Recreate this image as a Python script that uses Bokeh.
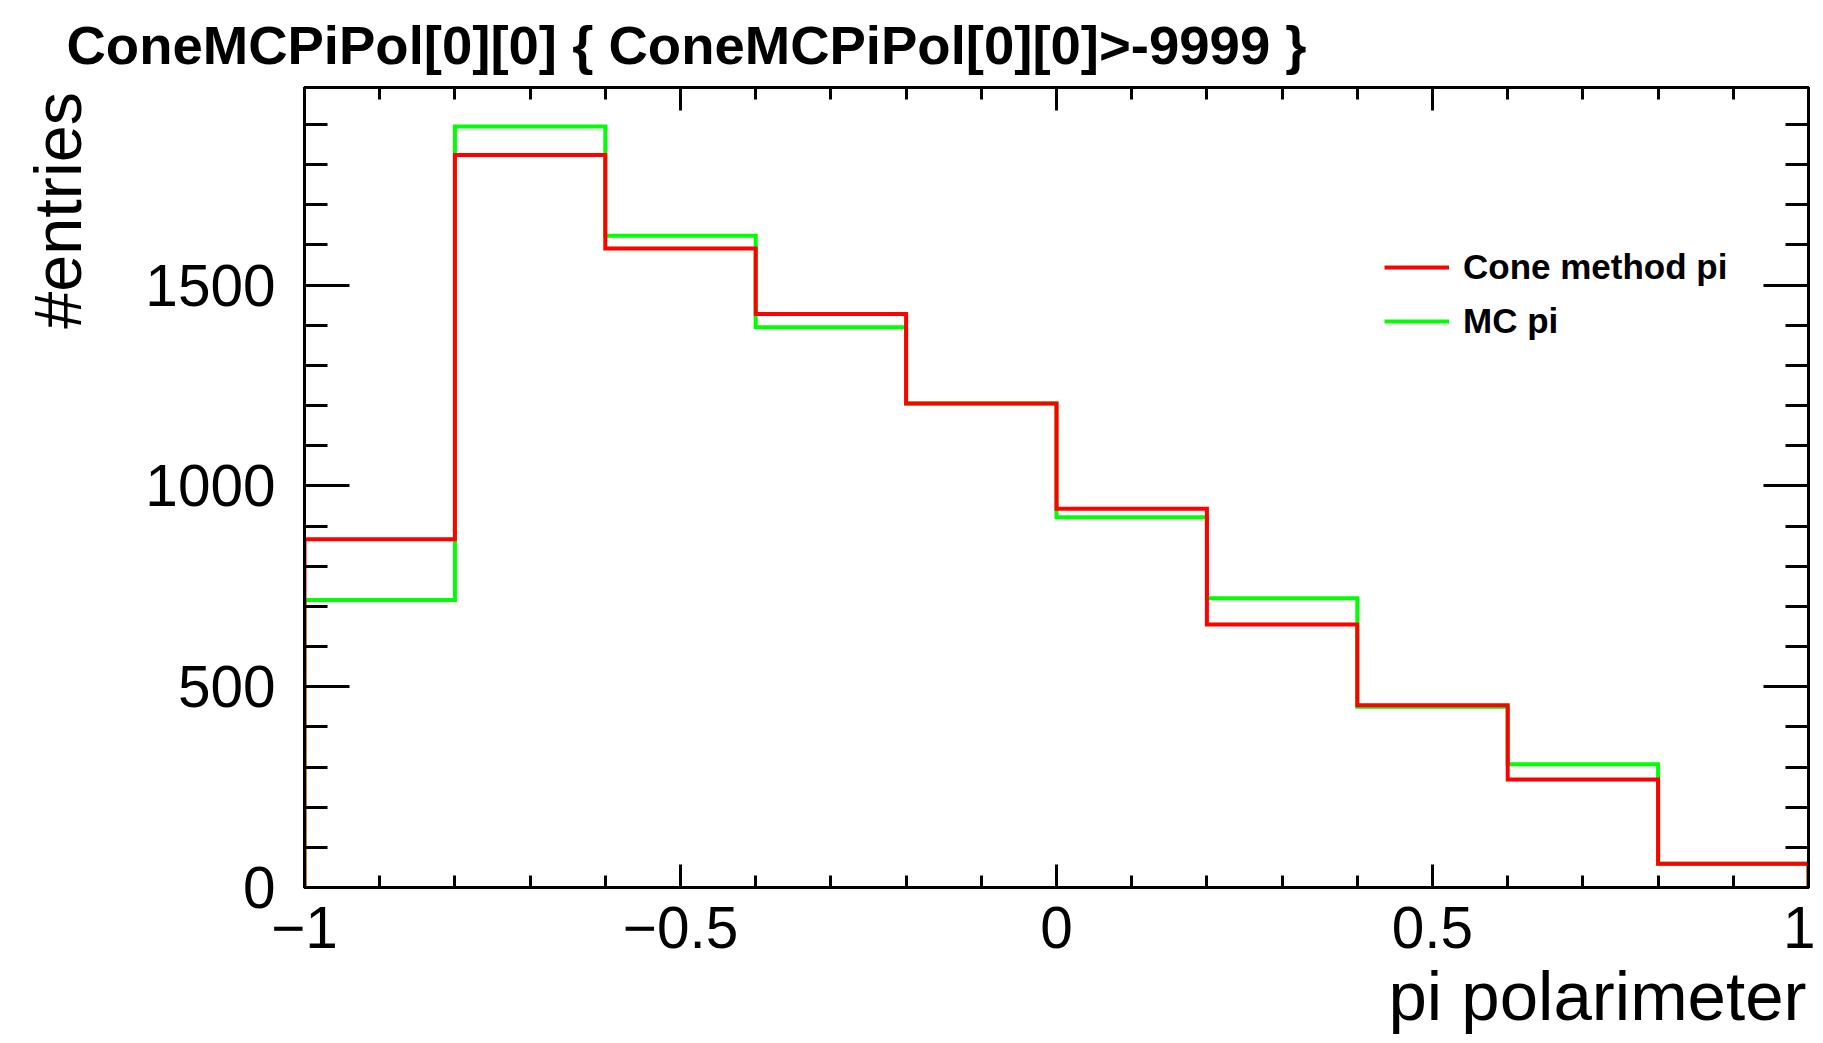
from bokeh.plotting import figure
from bokeh.models import Range1d, LinearAxis, FixedTicker, Title, Legend, LegendItem
from bokeh.embed import file_html
from bokeh.resources import INLINE

# ---- data ----
bin_edges = [-1.0, -0.8, -0.6, -0.4, -0.2, 0.0, 0.2, 0.4, 0.6, 0.8, 1.0]
cone_counts = [867, 1824, 1591, 1428, 1205, 943, 655, 454, 269, 59]
mc_counts = [716, 1895, 1623, 1395, 1205, 922, 720, 450, 307, 59]
x_major = [-1.0, -0.5, 0.0, 0.5, 1.0]
x_labels = ["\u22121", "\u22120.5", "0", "0.5", "1"]
x_minor = [round(-1.0 + 0.1 * i, 1) for i in range(21)]
y_major = [0, 500, 1000, 1500]
y_labels = ["0", "500", "1000", "1500"]
y_minor = [100 * i for i in range(20)]
title_text = "ConeMCPiPol[0][0] { ConeMCPiPol[0][0]>-9999 }"
x_title = "pi polarimeter"
y_title = "#entries"
series_names = ["Cone method pi", "MC pi"]
FONT = "Liberation Sans"
Y_MAX = 1992


def outline(edges, counts):
    xs = [edges[0]]
    ys = [0]
    for i, c in enumerate(counts):
        xs += [edges[i], edges[i + 1]]
        ys += [c, c]
    xs.append(edges[-1])
    ys.append(0)
    return xs, ys


W, H = 1815, 1041
FRAME_L, FRAME_R, FRAME_T, FRAME_B = 304, 1808, 87, 887
p = figure(width=W, height=H, x_range=Range1d(-1, 1), y_range=Range1d(0, Y_MAX),
           output_backend="svg", toolbar_location=None,
           x_axis_location=None, y_axis_location=None,
           min_border_left=FRAME_L, min_border_right=W - FRAME_R, min_border_top=FRAME_T,
           min_border_bottom=H - FRAME_B)
p.xgrid.grid_line_color = None
p.ygrid.grid_line_color = None
p.outline_line_color = "black"
p.outline_line_width = 3
p.background_fill_color = "white"
p.border_fill_color = "white"


def style_axis(ax, major_in, minor_in, show_labels, standoff=0, overrides=None):
    ax.major_tick_in = major_in
    ax.major_tick_out = 0
    ax.minor_tick_in = minor_in
    ax.minor_tick_out = 0
    ax.axis_line_width = 3
    ax.major_tick_line_width = 3
    ax.minor_tick_line_width = 3
    ax.axis_line_color = "black"
    ax.major_tick_line_color = "black"
    ax.minor_tick_line_color = "black"
    if show_labels:
        ax.major_label_text_font = FONT
        ax.major_label_text_font_size = "58.5px"
        ax.major_label_text_color = "black"
        ax.major_label_standoff = standoff
        if overrides:
            ax.major_label_overrides = overrides
    else:
        ax.major_label_text_font_size = "1px"
        ax.major_label_text_color = None
        ax.major_label_standoff = 0


xb = LinearAxis(ticker=FixedTicker(ticks=x_major, minor_ticks=x_minor))
style_axis(xb, 23, 12, True, 19, {v: l for v, l in zip(x_major, x_labels)})
p.add_layout(xb, "below")

yl = LinearAxis(ticker=FixedTicker(ticks=y_major, minor_ticks=y_minor))
style_axis(yl, 45, 23, True, 29, {v: l for v, l in zip(y_major, y_labels)})
p.add_layout(yl, "left")

xt = LinearAxis(ticker=FixedTicker(ticks=x_major, minor_ticks=x_minor))
style_axis(xt, 23, 12, False)
p.add_layout(xt, "above")

yr = LinearAxis(ticker=FixedTicker(ticks=y_major, minor_ticks=y_minor))
style_axis(yr, 45, 23, False)
p.add_layout(yr, "right")

# y-axis title: ROOT puts it at the top end of the axis; the centred Bokeh
# label is padded at its start with no-break spaces so the words sit at the top
yl.axis_label = "\u00a0" * 30 + y_title
yl.axis_label_standoff = 47
yl.axis_label_text_font = FONT
yl.axis_label_text_font_size = "66.5px"
yl.axis_label_text_font_style = "normal"
yl.axis_label_text_color = "black"

# histograms
mx, my = outline(bin_edges, mc_counts)
cx, cy = outline(bin_edges, cone_counts)
r_mc = p.line(mx, my, line_color="#00ff00", line_width=4, line_join="miter")
r_cone = p.line(cx, cy, line_color="#ff0000", line_width=4, line_join="miter")

legend = Legend(items=[LegendItem(label=series_names[0], renderers=[r_cone]),
                       LegendItem(label=series_names[1], renderers=[r_mc])],
                location=(1080, 539), glyph_width=65, glyph_height=54, label_height=54,
                label_standoff=14, spacing=0, padding=0, margin=0,
                border_line_color=None, background_fill_alpha=0,
                label_text_font=FONT, label_text_font_style="bold",
                label_text_font_size="35px", label_text_color="black")
p.add_layout(legend)

# main title
p.title.text = title_text
p.title.text_font = FONT
p.title.text_font_size = "54.5px"
p.title.text_font_style = "bold"
p.title.text_color = "black"
p.title.align = "left"
p.title.offset = -238
p.title.standoff = 24

tx = Title(text=x_title, align="right", offset=2, standoff=10, text_font=FONT,
           text_font_size="69px", text_font_style="normal", text_color="black")
p.add_layout(tx, "below")

open("out.html", "w").write(file_html(p, INLINE))
